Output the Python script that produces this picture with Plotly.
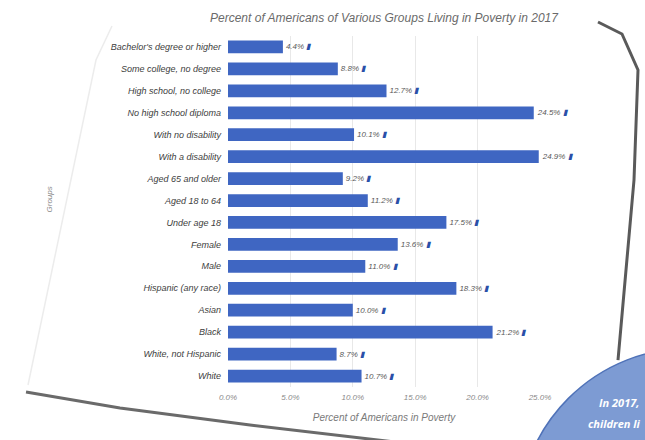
import plotly.graph_objects as go

groups = [
    "Bachelor's degree or higher",
    "Some college, no degree",
    "High school, no college",
    "No high school diploma",
    "With no disability",
    "With a disability",
    "Aged 65 and older",
    "Aged 18 to 64",
    "Under age 18",
    "Female",
    "Male",
    "Hispanic (any race)",
    "Asian",
    "Black",
    "White, not Hispanic",
    "White",
]
poverty_pct = [4.4, 8.8, 12.7, 24.5, 10.1, 24.9, 9.2, 11.2, 17.5, 13.6, 11.0, 18.3, 10.0, 21.2, 8.7, 10.7]
x_ticks = [0, 5, 10, 15, 20, 25]
x_tick_labels = ["0.0%", "5.0%", "10.0%", "15.0%", "20.0%", "25.0%"]

W, H = 645, 440
ML, MR, MT, MB = 228, 105, 36, 53
PW, PH = W - ML - MR, H - MT - MB

def px(x):
    return (x - ML) / PW

def py(y):
    return (H - MB - y) / PH

def path(points):
    return "M " + " L ".join(f"{px(a):.4f},{py(b):.4f}" for a, b in points)

GRAY = "#595959"
BLUE = "#3f66c2"

fig = go.Figure()
fig.add_trace(go.Bar(
    x=poverty_pct,
    y=groups,
    orientation="h",
    marker=dict(color=BLUE, line=dict(width=0)),
    width=0.58,
    texttemplate='%{x:.1f}% <span style="color:#2a4fa8">▮</span>',
    textposition="outside",
    textfont=dict(size=8, color=GRAY, family="Liberation Sans", style="italic"),
    cliponaxis=False,
    hoverinfo="skip",
))

shapes = []
# card edges (decorative)
shapes.append(dict(type="path", xref="paper", yref="paper",
                   path=path([(112, 26), (96, 60), (28, 385)]),
                   line=dict(color="#ececec", width=1.5)))
shapes.append(dict(type="path", xref="paper", yref="paper",
                   path=path([(26, 392), (120, 408), (250, 425), (395, 442)]),
                   line=dict(color="#6a6a6a", width=3)))
shapes.append(dict(type="path", xref="paper", yref="paper",
                   path=path([(598, 22), (622, 34), (638, 70), (634, 180), (618, 360)]),
                   line=dict(color="#5a5a5a", width=3)))
# callout circle
shapes.append(dict(type="circle", xref="paper", yref="paper",
                   x0=px(518), x1=px(862), y0=py(692), y1=py(348),
                   fillcolor="#7d9bd3", line=dict(color="#4f72b8", width=1.5)))
fig.update_layout(shapes=shapes)

fig.add_annotation(xref="paper", yref="paper", x=px(641), y=py(412),
                   text="<b>In 2017,</b>", showarrow=False, xanchor="right",
                   font=dict(size=11, color="white", family="Open Sans"))
fig.add_annotation(xref="paper", yref="paper", x=px(643), y=py(433),
                   text="<b>children li</b>", showarrow=False, xanchor="right",
                   font=dict(size=11, color="white", family="Open Sans"))

fig.add_annotation(xref="paper", yref="paper", x=px(42), y=py(200),
                   text="Groups", textangle=-90, showarrow=False,
                   font=dict(size=8, color="#8a8a8a", family="Liberation Sans", style="italic"))

fig.update_layout(
    width=W, height=H,
    margin=dict(l=ML, r=MR, t=MT, b=MB, pad=0),
    paper_bgcolor="white",
    plot_bgcolor="white",
    showlegend=False,
    font=dict(family="Liberation Sans", color=GRAY, style="italic"),
    title=dict(text="Percent of Americans of Various Groups Living in Poverty in 2017",
               xref="paper", x=px(384), xanchor="center", y=1 - 18 / H, yanchor="middle",
               font=dict(size=12, color="#6a6a6a", family="Liberation Sans", style="italic")),
    bargap=0.42,
)
fig.update_xaxes(
    range=[0, 25], tickvals=x_ticks, ticktext=x_tick_labels,
    showgrid=True, gridcolor="#e8e8e8", gridwidth=1, zeroline=False,
    showline=False, ticks="",
    ticklabelstandoff=4,
    tickfont=dict(size=8, color="#8a8a8a", style="italic"),
    title=dict(text="Percent of Americans in Poverty", standoff=12,
               font=dict(size=10, color="#7a7a7a", style="italic")),
    fixedrange=True,
)
fig.update_yaxes(
    autorange="reversed", showgrid=False, showline=False, ticks="",
    ticklabelstandoff=6,
    tickfont=dict(size=9, color="#404040", style="italic"),
    fixedrange=True,
)

fig.write_html(
    "out.html",
    config={"displayModeBar": False},
    post_script="document.body.style.margin='0';document.body.style.overflow='hidden';",
)
